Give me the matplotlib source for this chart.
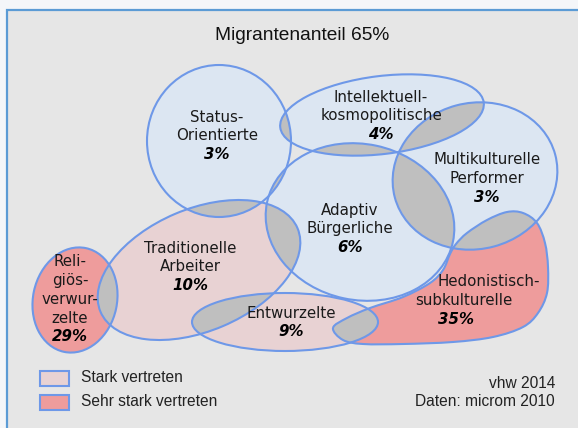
import numpy as np
import matplotlib.pyplot as plt
from matplotlib.patches import Ellipse, Rectangle, PathPatch
from matplotlib.path import Path

# ------------------ data ------------------
milieus = ["Status-Orientierte", "Intellektuell-kosmopolitische", "Multikulturelle Performer",
           "Adaptiv Bürgerliche", "Traditionelle Arbeiter", "Religiös-verwurzelte",
           "Entwurzelte", "Hedonistisch-subkulturelle"]
label_lines = [["Status-", "Orientierte"], ["Intellektuell-", "kosmopolitische"],
               ["Multikulturelle", "Performer"], ["Adaptiv", "Bürgerliche"],
               ["Traditionelle", "Arbeiter"], ["Reli-", "giös-", "verwur-", "zelte"],
               ["Entwurzelte"], ["Hedonistisch-", "subkulturelle"]]
shares = [3, 4, 3, 6, 10, 29, 9, 35]
# 0 = normal, 1 = stark vertreten, 2 = sehr stark vertreten
level = [0, 0, 0, 0, 1, 2, 1, 2]
title = "Migrantenanteil 65%"
legend_labels = ["Stark vertreten", "Sehr stark vertreten"]
credits = ["vhw 2014", "Daten: microm 2010"]

# ------------------ layout (pixel coords, y down) ------------------
# ellipse: (cx, cy, width, height, visual angle ccw)
ellipses = {
    0: (219, 141, 144, 152, 0),
    1: (382, 115, 205, 78, 7),
    2: (475, 176, 166, 146, 15),
    3: (360, 222, 190, 156, -12),
    4: (199, 270, 214, 122, 23),
    5: (75, 300, 84, 106, -12),
    6: (285, 322, 186, 58, 0),
}
# outline of the irregular Hedonist shape
hedo_pts = [(333, 328), (347, 318), (370, 308), (403, 297), (430, 283), (443, 270),
            (450, 254), (456, 244), (467, 233), (487, 220), (507, 212), (523, 213),
            (537, 223), (545, 243), (548, 267), (547, 293), (538, 313), (523, 327),
            (493, 337), (453, 342), (403, 344), (363, 344), (343, 340)]
# text anchors: x of each line centre (list or scalar), y of first line
text_pos = {
    0: (217, 117), 1: (381, 97), 2: (487, 160), 3: (350, 210),
    4: (190, 248), 5: (70, 262), 6: (291, 313),
    7: ([489, 464, 456], 282),
}
line_h = 18.7

fill_cols = ["#dce6f2", "#e8d2d3", "#ee9c9c"]
gray = "#bfbfbf"
edge = "#6e98e8"
bg = "#e6e6e6"
frame = "#5b9bd5"


def smooth_closed(pts):
    # closed Catmull-Rom outline as cubic Bezier path
    p = np.array(pts, float)
    n = len(p)
    verts = [p[0]]
    codes = [Path.MOVETO]
    for i in range(n):
        p0, p1, p2, p3 = p[i - 1], p[i], p[(i + 1) % n], p[(i + 2) % n]
        verts += [p1 + (p2 - p0) / 6, p2 - (p3 - p1) / 6, p2]
        codes += [Path.CURVE4] * 3
    return Path(verts, codes)


def make_patch(i, **kw):
    if i in ellipses:
        cx, cy, w, h, a = ellipses[i]
        return Ellipse((cx, cy), w, h, angle=-a, **kw)
    return PathPatch(smooth_closed(hedo_pts), **kw)


fig = plt.figure(figsize=(5.78, 4.28), dpi=100, facecolor="#f4f6f9")
ax = fig.add_axes([0, 0, 1, 1])
ax.set_xlim(0, 578)
ax.set_ylim(428, 0)
ax.axis("off")

ax.add_patch(Rectangle((7, 10), 600, 450, facecolor=bg, edgecolor=frame, lw=1.6, zorder=0))

n = len(milieus)
# fills
for i in range(n):
    ax.add_patch(make_patch(i, facecolor=fill_cols[level[i]], edgecolor="none", zorder=1))
# overlaps in gray
for i in range(n):
    for j in range(i + 1, n):
        clip = make_patch(j, transform=ax.transData)
        p = make_patch(i, facecolor=gray, edgecolor="none", zorder=2)
        ax.add_patch(p)
        p.set_clip_path(clip)
# outlines
for i in range(n):
    ax.add_patch(make_patch(i, facecolor="none", edgecolor=edge, lw=1.5, zorder=3))

# labels
for i in range(n):
    xs, y0 = text_pos[i]
    lines = label_lines[i] + [f"{shares[i]}%"]
    if np.isscalar(xs):
        xs = [xs] * len(lines)
    for k, s in enumerate(lines):
        bold = k == len(lines) - 1
        ax.text(xs[k], y0 + k * line_h, s, ha="center", va="center",
                fontsize=10.8, family="DejaVu Sans", color="#1a1a1a" if not bold else "black",
                fontweight="bold" if bold else "normal",
                fontstyle="italic" if bold else "normal", zorder=5)

ax.text(302, 35, title, ha="center", va="center", fontsize=13.8,
        family="Liberation Sans", color="#111111")

for k, lab in enumerate(legend_labels):
    y = 378 + k * 24
    ax.add_patch(Rectangle((40, y - 7), 29, 15, facecolor=fill_cols[k + 1],
                           edgecolor=edge, lw=1.5, zorder=3))
    ax.text(81, y, lab, ha="left", va="center", fontsize=11.2,
            family="Liberation Sans", color="#222222")
for k, c in enumerate(credits):
    ax.text(555, 383 + k * 19, c, ha="right", va="center", fontsize=11.2,
            family="Liberation Sans", color="#222222")

fig.savefig("out.png", dpi=100, facecolor=fig.get_facecolor())
